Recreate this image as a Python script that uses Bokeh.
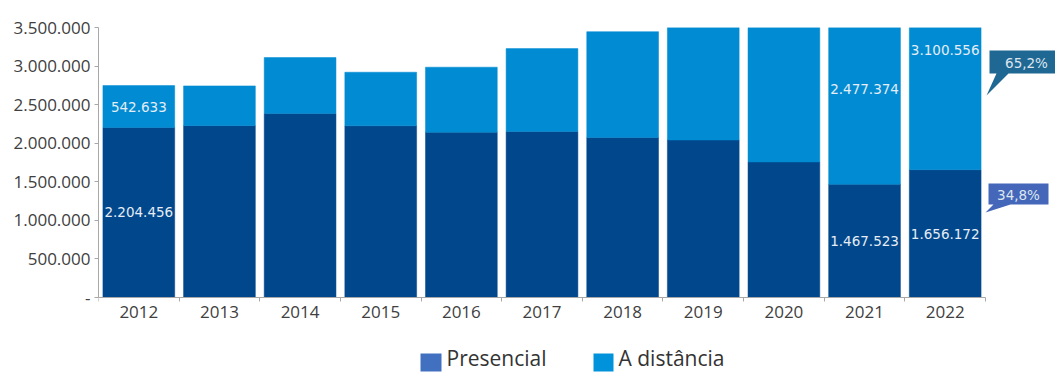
from bokeh.plotting import figure
from bokeh.models import Range1d, FixedTicker, ColumnDataSource, Label, PolyAnnotation
from bokeh.core.properties import value
from bokeh.embed import file_html
from bokeh.resources import INLINE

# ---------------- data ----------------
years = ["2012", "2013", "2014", "2015", "2016", "2017", "2018", "2019", "2020", "2021", "2022"]
presencial = [2204456, 2227857, 2383574, 2225663, 2142463, 2152752, 2072614, 2041026, 1756488, 1467523, 1656172]
distancia = [542633, 515405, 727738, 694559, 843181, 1073497, 1373321, 1592184, 2008979, 2477374, 3100556]
labeled_years = ["2012", "2021", "2022"]
y_ticks = [0, 500000, 1000000, 1500000, 2000000, 2500000, 3000000, 3500000]
y_tick_labels = ["-", "500.000", "1.000.000", "1.500.000", "2.000.000", "2.500.000", "3.000.000", "3.500.000"]
share_labels = ["65,2%", "34,8%"]
legend_labels = ["Presencial", "A distância"]

# ---------------- style ----------------
C_PRES = "#00478B"
C_DIST = "#008BD2"
C_LEG_PRES = "#4170C0"
C_LEG_DIST = "#0092DA"
C_CALL_DIST = "#1F6894"
C_CALL_PRES = "#4467BA"
AXIS_C = "#a8a8a8"
TXT_C = "#404040"

W, H = 1055, 372
FL, FT = 98, 27           # frame left / top (px)
PX_X = len(years) / 887   # data units per px (x)
Y_MAX = 3500000
PX_Y = Y_MAX / 270        # data units per px (y)


def fmt(v):
    return f"{v:,}".replace(",", ".")


xs = list(range(len(years)))
src = ColumnDataSource(dict(x=xs, presencial=presencial, distancia=distancia))

x_start = -0.5
x_end = x_start + (W - FL) * PX_X
y_end = Y_MAX
y_start = Y_MAX - (H - FT) * PX_Y

p = figure(width=W, height=H, frame_width=W - FL, frame_height=H - FT,
           min_border_left=FL, min_border_right=0, min_border_top=FT, min_border_bottom=0,
           x_range=Range1d(x_start, x_end), y_range=Range1d(y_start, y_end),
           output_backend="svg", toolbar_location=None)
p.outline_line_color = None
p.grid.grid_line_color = None
p.background_fill_color = "white"
p.border_fill_color = "white"

p.vbar_stack(["presencial", "distancia"], x="x", width=0.89, source=src,
             fill_color=[C_PRES, C_DIST], line_color=[C_PRES, C_DIST], line_width=0.5)

# value labels
lx, ly, lt = [], [], []
for i, yr in enumerate(years):
    if yr in labeled_years:
        lx += [i, i]
        ly += [presencial[i] / 2, presencial[i] + distancia[i] / 2]
        lt += [fmt(presencial[i]), fmt(distancia[i])]
p.text(x=lx, y=ly, text=lt, text_align="center", text_baseline="middle",
       text_font=value("DejaVu Sans"), text_font_size="13.5px", text_color="#e6edf5")

# axes
xa = p.xaxis[0]
xa.fixed_location = 0
xa.bounds = (-0.5, len(years) - 0.5)
xa.ticker = FixedTicker(ticks=xs, minor_ticks=[i - 0.5 for i in range(len(years) + 1)])
xa.major_label_overrides = {i: yr for i, yr in enumerate(years)}
xa.major_tick_line_color = None
xa.major_tick_out = 0
xa.major_tick_in = 0
xa.minor_tick_out = 4
xa.minor_tick_in = 0
xa.minor_tick_line_color = AXIS_C
xa.axis_line_color = AXIS_C
xa.major_label_standoff = 4
xa.major_label_text_font = "Open Sans"
xa.major_label_text_font_size = "17px"
xa.major_label_text_color = TXT_C

ya = p.yaxis[0]
ya.bounds = (0, Y_MAX)
ya.ticker = FixedTicker(ticks=y_ticks)
ya.major_label_overrides = {t: l for t, l in zip(y_ticks, y_tick_labels)}
ya.major_tick_out = 4
ya.major_tick_in = 0
ya.major_tick_line_color = AXIS_C
ya.minor_tick_line_color = None
ya.axis_line_color = AXIS_C
ya.major_label_standoff = 4
ya.major_label_text_font = "Open Sans"
ya.major_label_text_font_size = "17px"
ya.major_label_text_color = TXT_C


# pixel helpers for annotation placement
def dx(rx):
    return (rx - FL) * PX_X + x_start


def dy(ry):
    return Y_MAX - (ry - FT) * PX_Y


# callouts
call1 = [(989, 50), (1055, 50), (1055, 73), (1008, 73), (986, 95), (996, 73), (989, 73)]
call2 = [(988, 183), (1048, 183), (1048, 204), (1010, 204), (985, 212), (993, 204), (988, 204)]
for pts, col in [(call1, C_CALL_DIST), (call2, C_CALL_PRES)]:
    p.add_layout(PolyAnnotation(xs=[dx(a) for a, b in pts], ys=[dy(b) for a, b in pts],
                                fill_color=col, fill_alpha=1, line_color=None))
p.add_layout(Label(x=dx(1026), y=dy(62), text=share_labels[0], text_align="center",
                   text_baseline="alphabetic", text_font="DejaVu Sans", text_font_size="13.5px",
                   text_color="#dde6ee"))
p.add_layout(Label(x=dx(1018), y=dy(194), text=share_labels[1], text_align="center",
                   text_baseline="alphabetic", text_font="DejaVu Sans", text_font_size="13.5px",
                   text_color="#dde6ee"))

# legend (manual)
leg = [(420, 441, C_LEG_PRES, 446, legend_labels[0]), (593, 613, C_LEG_DIST, 618, legend_labels[1])]
for l, r, col, tx, txt in leg:
    t, b = 353, 371
    p.add_layout(PolyAnnotation(xs=[dx(l), dx(r), dx(r), dx(l)], ys=[dy(t), dy(t), dy(b), dy(b)],
                                fill_color=col, fill_alpha=1, line_color=None))
    p.add_layout(Label(x=dx(tx), y=dy(357), text=txt, text_align="left", text_baseline="alphabetic",
                       text_font="Open Sans", text_font_size="21px", text_color="#333333"))

open("out.html", "w").write(file_html(p, INLINE))
